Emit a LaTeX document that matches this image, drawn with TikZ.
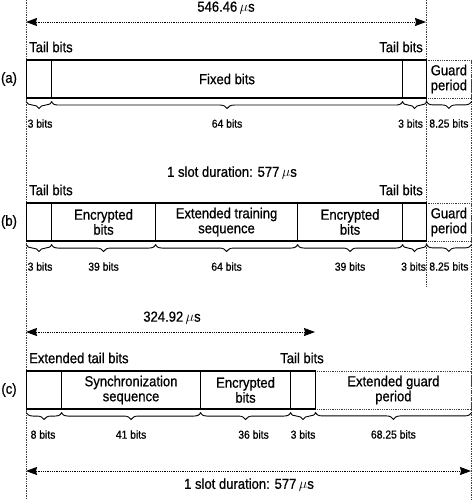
\documentclass[tikz,border=0pt]{standalone}
\usepackage{fontspec}
\setmainfont{Liberation Sans}[FakeStretch=0.9, FakeBold=0.7]
\usetikzlibrary{calc,arrows.meta,decorations.pathreplacing}

\begin{document}
\begin{tikzpicture}[x=1pt, y=1pt,
        field/.style=
            {
                rectangle,
                draw = black,
                line width = 1.1pt,
                inner sep = 0pt,
                anchor = west,
                align = center,
                minimum height = 38pt,
                font = \fontsize{14.5}{15}\selectfont
            },
        guard/.style=
            {
                field,
                draw = black!75,
                line width = 0.8pt,
                densely dotted
            },
        tag/.style=
            {
                inner sep = 0pt,
                font = \fontsize{14.5}{15}\selectfont
            },
        bitcount/.style=
            {
                inner sep = 0pt,
                font = \fontsize{11.5}{12}\selectfont
            },
        curly/.style=
            {
                decorate,
                decoration = {brace, mirror, amplitude = 7pt},
                line width = 0.9pt
            },
        measure/.style=
            {
                densely dotted,
                line width = 0.8pt,
                {Stealth[length=11pt,width=8pt,inset=1pt]}-{Stealth[length=11pt,width=8pt,inset=1pt]}
            },
        guide/.style=
            {
                densely dotted,
                draw = black!75,
                line width = 0.7pt
            }
    ]

    \useasboundingbox (0,0) rectangle (474,-500);

    % guide lines
    \coordinate (G1top) at (26,0);
    \coordinate (G1bot) at (26,-500);
    \coordinate (G2top) at (426,0);
    \coordinate (G2bot) at (426,-287);
    \coordinate (G3top) at (471,-60);
    \coordinate (G3bot) at (471,-500);
    \draw[guide] (G1top) -- (G1bot);
    \draw[guide] (G2top) -- (G2bot);
    \draw[guide] (G3top) -- (G3bot);

    % (a)
    \draw (9,-79) node[tag] (RA) {(a)};
    \draw (426,-79) node[guard, minimum width=45pt] (A4) {Guard\\period};
    \draw (26,-79) node[field, minimum width=25pt] (A1) {};
    \draw (51,-79) node[field, minimum width=351pt] (A2) {Fixed bits};
    \draw (402,-79) node[field, minimum width=24pt] (A3) {};
    \draw (29,-47) node[tag, anchor=west] (TA1) {Tail bits};
    \draw (423,-47) node[tag, anchor=east] (TA2) {Tail bits};

    % (b)
    \draw (9,-222) node[tag] (RB) {(b)};
    \draw (426,-222) node[guard, minimum width=45pt] (B6) {Guard\\period};
    \draw (26,-222) node[field, minimum width=25pt] (B1) {};
    \draw (51,-222) node[field, minimum width=104pt] (B2) {Encrypted\\bits};
    \draw (155,-222) node[field, minimum width=142pt] (B3) {Extended training\\sequence};
    \draw (297,-222) node[field, minimum width=105pt] (B4) {Encrypted\\bits};
    \draw (402,-222) node[field, minimum width=24pt] (B5) {};
    \draw (29,-190) node[tag, anchor=west] (TB1) {Tail bits};
    \draw (423,-190) node[tag, anchor=east] (TB2) {Tail bits};

    % (c)
    \draw (9,-390) node[tag] (RC) {(c)};
    \draw (315,-390) node[guard, minimum width=156pt] (C5) {Extended guard\\period};
    \draw (26,-390) node[field, minimum width=35pt] (C1) {};
    \draw (61,-390) node[field, minimum width=139pt] (C2) {Synchronization\\sequence};
    \draw (200,-390) node[field, minimum width=90pt] (C3) {Encrypted\\bits};
    \draw (290,-390) node[field, minimum width=25pt] (C4) {};
    \draw (29,-358) node[tag, anchor=west] (TC1) {Extended tail bits};
    \draw (302,-358) node[tag] (TC2) {Tail bits};

    % braces and bit counts
    \foreach \n/\s/\t in {A1/1/3 bits, A2/0/64 bits, A3/-4/3 bits, A4/0/8.25 bits,
                          B1/1/3 bits, B2/0/39 bits, B3/0/64 bits, B4/0/39 bits, B5/-1/3 bits, B6/0/8.25 bits,
                          C1/-1/8 bits, C2/0/41 bits, C3/8/36 bits, C4/0/3 bits, C5/0/68.25 bits}
    {
        \draw[curly] ([yshift=-3pt]\n.south west) -- ([yshift=-3pt]\n.south east);
        \draw ([xshift=\s, yshift=-25pt]\n.south) node[bitcount] (\n-n) {\t};
    }

    % durations
    \coordinate (DA1) at (26,-22);
    \coordinate (DA2) at (426,-22);
    \draw[measure] (DA1) -- (DA2);
    \draw (226,-8) node[tag] (LA) {546.46\,$\mu$s};

    \draw (232,-173) node[tag] (LB) {1 slot duration: 577\,$\mu$s};

    \coordinate (DC1) at (26,-332);
    \coordinate (DC2) at (315,-332);
    \draw[measure] (DC1) -- (DC2);
    \draw (172,-318) node[tag] (LC) {324.92\,$\mu$s};

    \coordinate (DE1) at (26,-471);
    \coordinate (DE2) at (471,-471);
    \draw[measure] (DE1) -- (DE2);
    \draw (249,-485) node[tag] (LE) {1 slot duration: 577\,$\mu$s};

\end{tikzpicture}
\end{document}
